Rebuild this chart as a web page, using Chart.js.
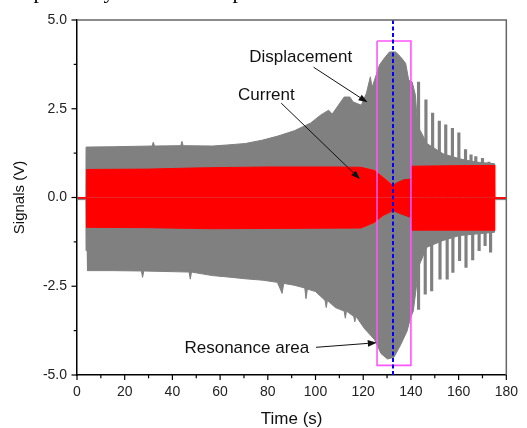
<!DOCTYPE html>
<html lang="en">
  <head>
    <meta charset="UTF-8" />
    <title>Signals vs Time</title>
    <style>
      body { margin: 0; background: #fff; }
      canvas { display: block; }
    </style>
  </head>
  <body>
    <canvas id="myChart" width="527" height="428"></canvas>

    <script src="https://cdn.jsdelivr.net/npm/chart.js"></script>
    <script>
      // displacement (gray) envelope
      const dispUpperTime = [0, 3.7, 3.8, 15, 31.5, 32, 32.5, 43.5, 44, 44.5, 56.8, 63, 70.5, 77.4, 84.2, 91.1, 98, 102.1, 105.5, 107, 109.6, 112, 114.4, 115.8, 119.2, 121.3, 123, 123.7, 124.7, 126.8, 128.8, 131, 133.6, 135.7, 137.8, 139.1, 140.5, 141.9, 142.8, 143.9, 146.7, 153.5, 160.4, 167.2, 175, 175.1, 180];
      const dispUpperValue = [-0.02, -0.02, 1.42, 1.43, 1.45, 1.56, 1.45, 1.46, 1.58, 1.46, 1.45, 1.48, 1.52, 1.61, 1.73, 1.88, 2.1, 2.32, 2.46, 2.35, 2.6, 2.83, 2.83, 2.69, 2.6, 2.93, 3.4, 3.1, 3.3, 3.73, 3.92, 4.1, 4.1, 3.96, 3.78, 3.3, 3.26, 2.88, 2.0, 1.89, 1.52, 1.23, 1.09, 1.0, 0.95, -0.02, -0.02];
      const dispLowerTime = [0, 3.7, 3.8, 4.3, 4.4, 15, 27, 27.5, 28, 47, 47.5, 48, 56.8, 65, 70.5, 78, 84, 86, 86.7, 91, 95.5, 96, 96.6, 100, 104, 104.5, 105, 108.3, 112, 112.5, 113, 116, 116.5, 117, 120.6, 124.7, 127.5, 130.2, 132.9, 135.7, 138.4, 139.8, 141, 142.5, 143.5, 146.7, 153.5, 160.4, 167.2, 175, 175.1, 180];
      const dispLowerValue = [-0.06, -0.06, -1.5, -1.5, -2.06, -2.06, -2.07, -2.25, -2.07, -2.1, -2.3, -2.1, -2.2, -2.25, -2.29, -2.33, -2.39, -2.7, -2.42, -2.47, -2.55, -2.85, -2.58, -2.65, -2.9, -3.1, -2.9, -3.1, -3.2, -3.4, -3.2, -3.35, -3.5, -3.35, -3.7, -4.0, -4.4, -4.55, -4.5, -4.15, -3.76, -3.4, -3.2, -2.4, -1.9, -1.4, -1.21, -1.07, -1.03, -0.98, -0.06, -0.06];

      // decaying displacement spikes after resonance
      const spikeUpTime = [143.2, 146.3, 149.1, 151.9, 154.6, 157.4, 160.1, 162.9, 165.2, 167.2, 170, 172.7];
      const spikeUpValue = [3.25, 2.75, 2.38, 2.15, 2.05, 1.95, 1.82, 1.35, 1.2, 1.15, 1.1, 1.0];
      const spikeDownTime = [143.2, 146, 148.7, 152.2, 155.2, 157.6, 160.4, 163.1, 165.9, 168.6, 171.1, 173.4];
      const spikeDownValue = [-3.15, -2.72, -2.63, -2.3, -2.3, -2.11, -1.78, -1.97, -1.76, -1.5, -1.36, -1.54];

      // current (red) envelope
      const currUpperTime = [0, 4.0, 4.05, 30, 48, 56, 80, 110, 119, 124.7, 128.2, 132.3, 134.3, 137, 139.8, 140.1, 150, 165, 175, 175.1, 180];
      const currUpperValue = [0, 0, 0.79, 0.8, 0.83, 0.84, 0.86, 0.86, 0.85, 0.76, 0.57, 0.34, 0.42, 0.5, 0.52, 0.88, 0.89, 0.9, 0.9, -0.02, -0.02];
      const currLowerTime = [0, 4.0, 4.05, 30, 48, 56, 119, 124.7, 128.2, 132.5, 135.7, 139.8, 140.3, 175, 175.1, 180];
      const currLowerValue = [-0.02, -0.02, -0.84, -0.85, -0.87, -0.88, -0.86, -0.7, -0.51, -0.37, -0.46, -0.56, -0.92, -0.92, -0.02, -0.02];

      // resonance marker and box
      const resonanceTime = 132.5;
      const resonanceBoxTime = [125.8, 140.0];
      const resonanceBoxValue = [4.41, -4.73];

      const xTicks = [0, 20, 40, 60, 80, 100, 120, 140, 160, 180];
      const yTicks = [-5, -2.5, 0, 2.5, 5];

      const GRAY = "#808080";
      const RED = "#ff0000";
      const FONT = '"Liberation Sans", Arial, sans-serif';

      function points(ts, vs) {
        return ts.map((t, i) => ({ x: t, y: vs[i] }));
      }

      function band(ts, vs, color, order) {
        return {
          type: "line",
          data: points(ts, vs),
          borderColor: color,
          backgroundColor: color,
          borderWidth: 1,
          pointRadius: 0,
          tension: 0,
          fill: "origin",
          order: order,
        };
      }

      const boxPts = [
        { x: resonanceBoxTime[0], y: resonanceBoxValue[0] },
        { x: resonanceBoxTime[1], y: resonanceBoxValue[0] },
        { x: resonanceBoxTime[1], y: resonanceBoxValue[1] },
        { x: resonanceBoxTime[0], y: resonanceBoxValue[1] },
        { x: resonanceBoxTime[0], y: resonanceBoxValue[0] },
      ];

      const notes = [
        { text: "Displacement", at: [93.8, 3.95], from: [99.2, 3.67], to: [121.8, 2.68] },
        { text: "Current", at: [79.4, 2.88], from: [85.6, 2.66], to: [118.6, 0.52] },
        { text: "Resonance area", at: [71.2, -4.24], from: [100.2, -4.22], to: [125.7, -4.09] },
      ];

      function arrow(ctx, x0, y0, x1, y1) {
        const ang = Math.atan2(y1 - y0, x1 - x0);
        const head = 9, half = 3.3;
        const bx = x1 - head * Math.cos(ang), by = y1 - head * Math.sin(ang);
        ctx.beginPath();
        ctx.moveTo(x0, y0);
        ctx.lineTo(bx, by);
        ctx.stroke();
        ctx.beginPath();
        ctx.moveTo(x1, y1);
        ctx.lineTo(bx + half * Math.sin(ang), by - half * Math.cos(ang));
        ctx.lineTo(bx - half * Math.sin(ang), by + half * Math.cos(ang));
        ctx.closePath();
        ctx.fill();
      }

      const decorations = {
        id: "decorations",
        afterDraw(chart) {
          const { ctx, chartArea: a, scales: { x, y } } = chart;
          ctx.save();

          // frame on top and right
          ctx.strokeStyle = "#666";
          ctx.lineWidth = 1.5;
          ctx.beginPath();
          ctx.moveTo(a.left, a.top);
          ctx.lineTo(a.right, a.top);
          ctx.lineTo(a.right, a.bottom);
          ctx.stroke();

          // major + minor ticks, pointing out
          ctx.strokeStyle = "#000";
          ctx.lineWidth = 1.2;
          for (let i = 0; i < xTicks.length; i++) {
            const px = x.getPixelForValue(xTicks[i]);
            ctx.beginPath(); ctx.moveTo(px, a.bottom); ctx.lineTo(px, a.bottom + 5); ctx.stroke();
            if (i < xTicks.length - 1) {
              const mx = x.getPixelForValue((xTicks[i] + xTicks[i + 1]) / 2);
              ctx.beginPath(); ctx.moveTo(mx, a.bottom); ctx.lineTo(mx, a.bottom + 3.3); ctx.stroke();
            }
          }
          for (let i = 0; i < yTicks.length; i++) {
            const py = y.getPixelForValue(yTicks[i]);
            ctx.beginPath(); ctx.moveTo(a.left, py); ctx.lineTo(a.left - 5.5, py); ctx.stroke();
            if (i < yTicks.length - 1) {
              const my = y.getPixelForValue((yTicks[i] + yTicks[i + 1]) / 2);
              ctx.beginPath(); ctx.moveTo(a.left, my); ctx.lineTo(a.left - 3.3, my); ctx.stroke();
            }
          }

          // text labels with arrows
          ctx.fillStyle = "#111";
          ctx.strokeStyle = "#111";
          ctx.lineWidth = 1;
          ctx.font = "17px " + FONT;
          ctx.textAlign = "center";
          ctx.textBaseline = "middle";
          notes.forEach((n) => {
            ctx.fillText(n.text, x.getPixelForValue(n.at[0]), y.getPixelForValue(n.at[1]));
            arrow(ctx,
              x.getPixelForValue(n.from[0]), y.getPixelForValue(n.from[1]),
              x.getPixelForValue(n.to[0]), y.getPixelForValue(n.to[1]));
          });

          // cut-off line of the page text above the figure
          ctx.fillStyle = "#000";
          ctx.font = '22px "Liberation Serif", serif';
          ctx.textBaseline = "alphabetic";
          ctx.fillText("p", 39, -2);
          ctx.fillText("y", 109, -2);
          ctx.fillText("p", 238, -2);
          ctx.restore();
        },
      };

      const chart = new Chart("myChart", {
        type: "line",
        data: {
          datasets: [
            {
              type: "line",
              data: [{ x: resonanceTime, y: 5 }, { x: resonanceTime, y: -5 }],
              borderColor: "#0000ff",
              borderWidth: 2,
              borderDash: [4, 2.5],
              pointRadius: 0,
              fill: false,
              order: -2,
            },
            {
              type: "line",
              data: boxPts,
              borderColor: "#ff55ff",
              borderWidth: 1.6,
              pointRadius: 0,
              fill: false,
              order: -1,
            },
            band(currUpperTime, currUpperValue, RED, 0),
            band(currLowerTime, currLowerValue, RED, 0),
            {
              type: "bar",
              data: spikeUpTime.map((t, i) => ({ x: t, y: [0, spikeUpValue[i]] })),
              backgroundColor: GRAY,
              barThickness: 2.5,
              grouped: false,
              order: 1,
            },
            {
              type: "bar",
              data: spikeDownTime.map((t, i) => ({ x: t, y: [spikeDownValue[i], 0] })),
              backgroundColor: GRAY,
              barThickness: 2.5,
              grouped: false,
              order: 1,
            },
            band(dispUpperTime, dispUpperValue, GRAY, 2),
            band(dispLowerTime, dispLowerValue, GRAY, 2),
          ],
        },
        options: {
          responsive: false,
          animation: false,
          events: [],
          layout: { padding: { top: 20, right: 13, left: 0, bottom: 0 } },
          plugins: {
            legend: { display: false },
            tooltip: { enabled: false },
          },
          scales: {
            x: {
              type: "linear",
              min: 0,
              max: 180,
              offset: false,
              afterBuildTicks: (s) => { s.ticks = xTicks.map((v) => ({ value: v })); },
              ticks: { padding: 9, color: "#222", font: { family: FONT, size: 14 }, maxRotation: 0 },
              grid: { display: false, drawTicks: false, offset: false },
              border: { color: "#000", width: 1.5 },
              title: { display: true, text: "Time (s)", color: "#111", font: { family: FONT, size: 17, lineHeight: 1 }, padding: 0 },
              afterFit: (s) => { s.height = 53; },
            },
            y: {
              type: "linear",
              min: -5,
              max: 5,
              afterBuildTicks: (s) => { s.ticks = yTicks.map((v) => ({ value: v })); },
              ticks: { padding: 10, color: "#222", font: { family: FONT, size: 14 }, callback: (v) => v.toFixed(1) },
              grid: { display: false, drawTicks: false },
              border: { color: "#000", width: 1.5 },
              title: { display: true, text: "Signals (V)", color: "#111", font: { family: FONT, size: 15, lineHeight: 1 }, padding: { top: 12.5, bottom: 0 } },
              afterFit: (s) => { s.width = 77; },
            },
          },
        },
        plugins: [decorations],
      });
    </script>
  </body>
</html>
